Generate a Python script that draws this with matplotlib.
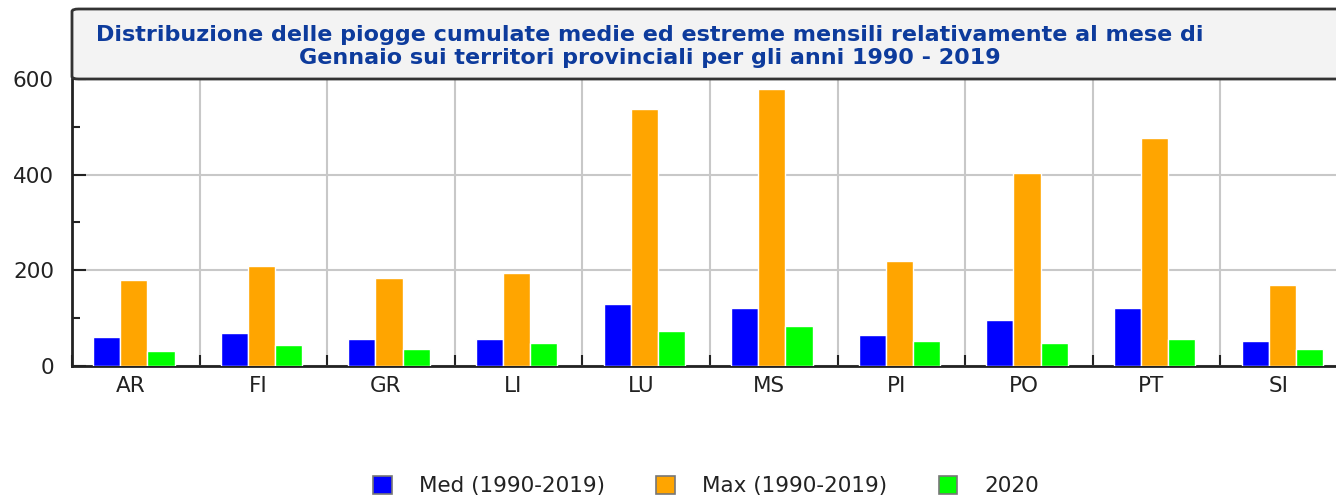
import matplotlib
matplotlib.use("Agg")
import matplotlib.pyplot as plt
import numpy as np
from matplotlib.patches import FancyBboxPatch
from matplotlib.ticker import MultipleLocator

categories = ["AR", "FI", "GR", "LI", "LU", "MS", "PI", "PO", "PT", "SI"]
med = [60, 69, 56, 56, 129, 121, 65, 96, 121, 52]
mx = [179, 210, 185, 194, 537, 579, 219, 404, 477, 169]
y2020 = [31, 44, 35, 48, 73, 83, 52, 48, 56, 35]
series_labels = ["Med (1990-2019)", "Max (1990-2019)", "2020"]
colors = ["#0000ff", "#ffa500", "#00ff00"]
title = ("Distribuzione delle piogge cumulate medie ed estreme mensili relativamente al mese di\n"
         "Gennaio sui territori provinciali per gli anni 1990 - 2019")

W, H = 1336, 497
fig = plt.figure(figsize=(W / 100, H / 100), dpi=100)
fig.patch.set_facecolor("white")

def fx(px):
    return px / W

def fy(py):
    return 1 - py / H

ax_left, ax_right, ax_top, ax_bot = 72, 1348, 79, 366
ax = fig.add_axes([fx(ax_left), fy(ax_bot), fx(ax_right - ax_left), (ax_bot - ax_top) / H])

n = len(categories)
x = np.arange(n)
bw = 0.213
shift = -0.015
for i, (vals, c, lab) in enumerate(zip([med, mx, y2020], colors, series_labels)):
    ax.bar(x + shift + (i - 1) * bw, vals, width=bw, color=c, edgecolor="white", linewidth=1.0,
           label=lab, zorder=3)

ax.set_xlim(-0.5, n - 0.5)
ax.set_ylim(0, 600)
ax.set_xticks(x - 0.04)
ax.set_xticklabels(categories, fontsize=15.5, color="#222222")
ax.set_xticks(np.arange(-0.5, n, 1), minor=True)
ax.tick_params(axis="x", which="major", length=0, pad=7)
ax.tick_params(axis="x", which="minor", direction="in", length=8, width=1.5, color="#222222")
ax.yaxis.set_major_locator(MultipleLocator(200))
ax.yaxis.set_minor_locator(MultipleLocator(100))
ax.tick_params(axis="y", which="major", direction="in", length=10, width=1.5, labelsize=15.5,
               pad=13, colors="#222222")
ax.tick_params(axis="y", which="minor", direction="in", length=6, width=1.5, color="#222222")
ax.grid(True, axis="y", which="major", color="#c8c8c8", linewidth=1.5, zorder=0)
ax.grid(True, axis="x", which="minor", color="#c8c8c8", linewidth=1.5, zorder=0)
for s in ["top", "right"]:
    ax.spines[s].set_visible(False)
for s in ["left", "bottom"]:
    ax.spines[s].set_linewidth(2)
    ax.spines[s].set_color("#222222")

# title box
box = FancyBboxPatch((fx(72), fy(79)), fx(1500 - 72), (79 - 9) / H,
                     boxstyle="round,pad=0,rounding_size=0.005",
                     transform=fig.transFigure, facecolor="#f3f3f3",
                     edgecolor="#333333", linewidth=2, zorder=5)
fig.add_artist(box)
fig.text(fx(650), fy(46.5), title, ha="center", va="center", fontsize=16,
         fontweight="bold", color="#0d3b9c", linespacing=1.2, zorder=6)

handles, labels = ax.get_legend_handles_labels()
leg = fig.legend(handles, labels, loc="center", bbox_to_anchor=(fx(706), fy(486)), ncol=3,
                 frameon=False, fontsize=15.5, handlelength=0.86, handleheight=0.9,
                 handletextpad=1.25, columnspacing=2.4, borderpad=0, borderaxespad=0)
for h in leg.legend_handles:
    h.set_edgecolor("#777777")
    h.set_linewidth(1.2)
for t in leg.get_texts():
    t.set_color("#222222")

fig.savefig("out.png", dpi=100, facecolor="white")
